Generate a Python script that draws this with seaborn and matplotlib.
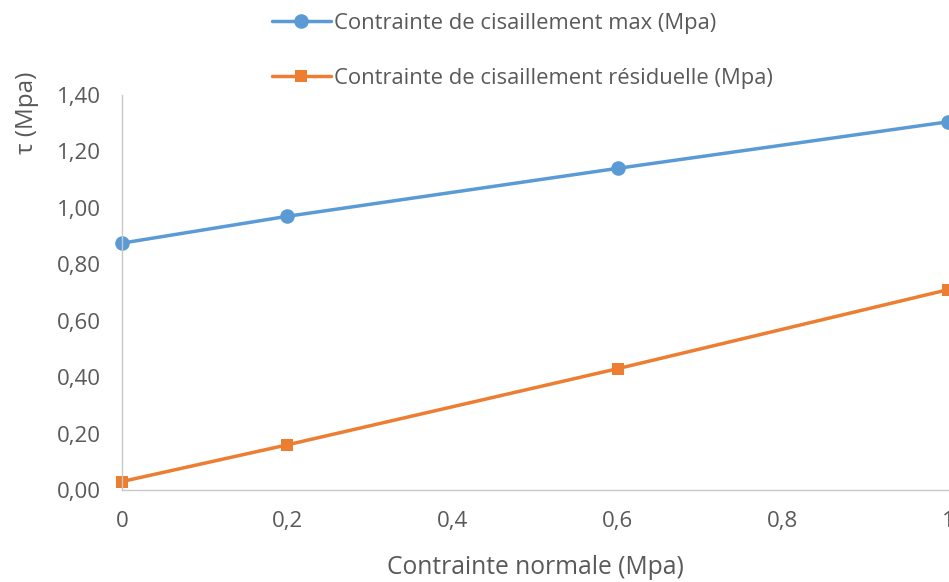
import matplotlib
matplotlib.use("Agg")
import matplotlib.pyplot as plt
import seaborn as sns
import pandas as pd
from matplotlib.lines import Line2D

# Data
normal_stress = [0.0, 0.2, 0.6, 1.0]
tau_max = [0.875, 0.97, 1.14, 1.305]
tau_residual = [0.03, 0.16, 0.43, 0.71]
series_names = ["Contrainte de cisaillement max (Mpa)",
                "Contrainte de cisaillement résiduelle (Mpa)"]
x_ticks = [0, 0.2, 0.4, 0.6, 0.8, 1.0]
x_tick_labels = ["0", "0,2", "0,4", "0,6", "0,8", "1"]
y_ticks = [0.0, 0.2, 0.4, 0.6, 0.8, 1.0, 1.2, 1.4]
y_tick_labels = ["0,00", "0,20", "0,40", "0,60", "0,80", "1,00", "1,20", "1,40"]

sns.set_style("white")
plt.rcParams["font.family"] = ["Open Sans", "DejaVu Sans"]

text_color = "#595959"
blue = "#5B9BD5"
orange = "#ED7D31"

fig = plt.figure(figsize=(9.49, 5.82), dpi=100)
ax = fig.add_axes([122 / 949, 1 - 490 / 582, 826 / 949, 395 / 582])

df_max = pd.DataFrame({"x": normal_stress, "y": tau_max})
df_res = pd.DataFrame({"x": normal_stress, "y": tau_residual})

sns.lineplot(data=df_max, x="x", y="y", ax=ax, color=blue, linewidth=2.5,
             marker="o", markersize=10.5, markeredgewidth=0, clip_on=False)
sns.lineplot(data=df_res, x="x", y="y", ax=ax, color=orange, linewidth=2.5,
             marker="s", markersize=9, markeredgewidth=0, clip_on=False)

ax.set_xlim(0, 1)
ax.set_ylim(0, 1.4)
ax.set_xticks(x_ticks)
ax.set_xticklabels(x_tick_labels)
ax.set_yticks(y_ticks)
ax.set_yticklabels(y_tick_labels)
ax.tick_params(axis="both", length=0, labelsize=16, colors=text_color)
ax.tick_params(axis="x", pad=15)
ax.tick_params(axis="y", pad=15)

for side in ["top", "right"]:
    ax.spines[side].set_visible(False)
for side in ["left", "bottom"]:
    ax.spines[side].set_color("#C8C8C8")
    ax.spines[side].set_linewidth(1.0)

ax.set_xlabel("Contrainte normale (Mpa)", fontsize=17.7, color=text_color, labelpad=17)
ax.set_ylabel("τ (Mpa)", fontsize=17.5, color=text_color)
ax.yaxis.set_label_coords(-0.100, 0.955)

handles = [
    Line2D([], [], color=blue, linewidth=2.5, marker="o", markersize=10.5, markeredgewidth=0),
    Line2D([], [], color=orange, linewidth=2.5, marker="s", markersize=9, markeredgewidth=0),
]
fig.legend(handles, series_names, loc="upper left",
           bbox_to_anchor=(252 / 949, 1 + 7 / 582), frameon=False,
           fontsize=15.8, labelcolor=text_color, handlelength=2.7,
           handletextpad=0.15, labelspacing=1.55)

fig.savefig("out.png", dpi=100)
